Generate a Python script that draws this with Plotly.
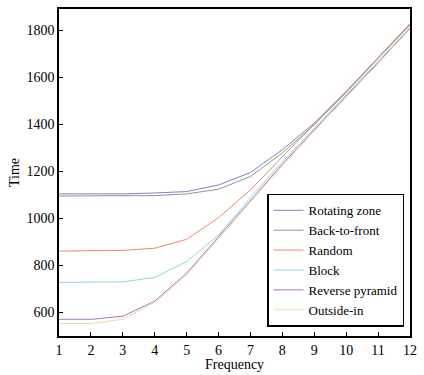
import plotly.graph_objects as go

frequency = [1, 2, 3, 4, 5, 6, 7, 8, 9, 10, 11, 12]
rotating_zone = [1104, 1104, 1104, 1108, 1114, 1142, 1195, 1292, 1405, 1540, 1683, 1826]
back_to_front = [1095, 1095, 1095, 1097, 1104, 1124, 1178, 1278, 1398, 1535, 1680, 1822]
random_order = [861, 862, 864, 873, 911, 1003, 1121, 1262, 1398, 1538, 1682, 1828]
block = [728, 728, 730, 749, 816, 929, 1088, 1240, 1382, 1522, 1665, 1810]
reverse_pyramid = [571, 571, 584, 648, 767, 922, 1076, 1230, 1376, 1518, 1662, 1808]
outside_in = [553, 553, 571, 642, 760, 916, 1070, 1224, 1372, 1514, 1658, 1805]

series = [
    ("Rotating zone", rotating_zone, "#7f83c6"),
    ("Back-to-front", back_to_front, "#8d9a88"),
    ("Random", random_order, "#ea8a6c"),
    ("Block", block, "#93d3e3"),
    ("Reverse pyramid", reverse_pyramid, "#a579b6"),
    ("Outside-in", outside_in, "#f0dc9c"),
]

FAM = "Liberation Serif, Times New Roman, serif"

fig = go.Figure()
for name, vals, color in series:
    fig.add_trace(go.Scatter(x=frequency, y=vals, mode="lines", name=name,
                             line=dict(color=color, width=1)))

fig.update_layout(
    width=424, height=375,
    margin=dict(l=59, r=14, t=9, b=39, autoexpand=False),
    paper_bgcolor="white", plot_bgcolor="white",
    font=dict(family=FAM, size=14, color="black"),
    showlegend=True,
    legend=dict(x=0.983, y=0.028, xanchor="right", yanchor="bottom",
                bgcolor="white", bordercolor="black", borderwidth=1.5,
                font=dict(family=FAM, size=13, color="black"),
                itemwidth=30, tracegroupgap=0),
    annotations=[dict(text="Frequency", xref="paper", yref="paper", x=0.5, y=-0.088,
                      xanchor="center", yanchor="middle", showarrow=False,
                      font=dict(family=FAM, size=14, color="black"))],
)
fig.update_xaxes(range=[1, 12], tickvals=frequency, ticks="inside", ticklen=4,
                 tickcolor="black", showline=True, linecolor="black", linewidth=1.5,
                 mirror=True, showgrid=False, zeroline=False, automargin=False,
                 tickfont=dict(family=FAM, size=14, color="black"))
fig.update_yaxes(range=[500, 1890], tickvals=[600, 800, 1000, 1200, 1400, 1600, 1800],
                 ticks="inside", ticklen=4, tickcolor="black", showline=True,
                 linecolor="black", linewidth=1.5, mirror=True, showgrid=False,
                 zeroline=False, automargin=False,
                 title=dict(text="Time", standoff=4, font=dict(family=FAM, size=14, color="black")),
                 tickfont=dict(family=FAM, size=14, color="black"))

fig.write_html("out.html", config={"displayModeBar": False},
               post_script="document.body.style.margin='0px';document.body.style.padding='0px';")
